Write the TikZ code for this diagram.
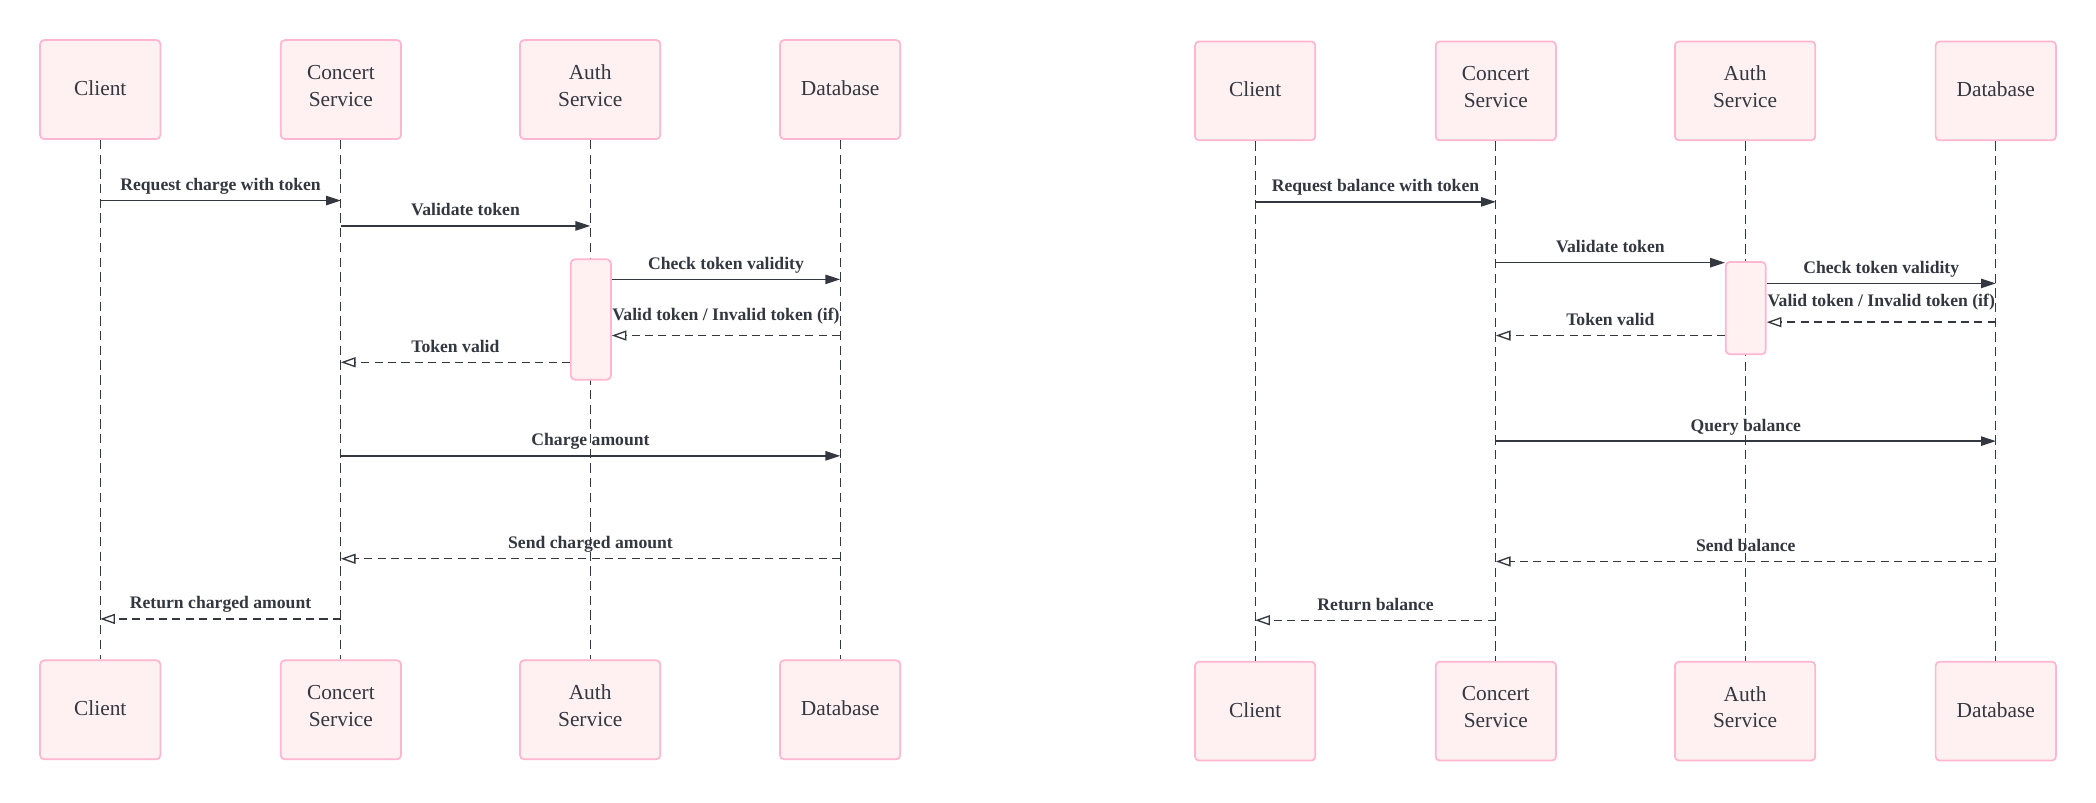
\documentclass[tikz,border=0pt]{standalone}
\usepackage{fontspec}
\setmainfont{Liberation Serif}
\usetikzlibrary{arrows.meta}
\definecolor{rosefond}{RGB}{255,240,241}
\definecolor{rosebord}{RGB}{255,182,208}
\definecolor{encre}{RGB}{51,55,63}
\tikzset{
	acteur/.style={draw=rosebord,fill=rosefond,line width=1.3pt,rounded corners=3pt,
		minimum width=90pt,minimum height=74pt,inner sep=0pt,align=center,
		text=encre,font=\fontsize{16}{20}\selectfont,text depth=2pt},
	service/.style={acteur,text depth=6pt},
	activ/.style={draw=rosebord,fill=rosefond,line width=1.3pt,rounded corners=3pt,
		minimum width=30pt,inner sep=0pt},
	vie/.style={draw=encre,line width=0.7pt,dash pattern=on 7pt off 4pt},
	appel/.style={draw=encre,line width=1pt,-{Triangle[length=11pt,width=7pt]}},
	retour/.style={draw=encre,line width=1pt,dash pattern=on 6pt off 4pt,
		-{Triangle[open,length=11pt,width=7.5pt]}},
	etiq/.style={font=\fontsize{13.2}{15}\selectfont\bfseries,text=encre,
		anchor=base,yshift=7.5pt,inner sep=0pt}
}
\begin{document}
\begin{tikzpicture}[x=1pt,y=-1pt]
	\useasboundingbox (0,0) rectangle (1568,600);
%					Paiement : les acteurs
	\node[acteur] (c1) at (75,67) {Client};
	\node[service] (s1) at (255,67) {Concert\\Service};
	\node[service,minimum width=105pt] (a1) at (441.5,67) {Auth\\Service};
	\node[acteur] (d1) at (628.5,67) {Database};
	\node[acteur] (c1b) at (75,531) {Client};
	\node[service] (s1b) at (255,531) {Concert\\Service};
	\node[service,minimum width=105pt] (a1b) at (441.5,531) {Auth\\Service};
	\node[acteur] (d1b) at (628.5,531) {Database};
%					Paiement : les lignes de vie
	\draw[vie] (c1) -- (c1b);
	\draw[vie] (s1) -- (s1b);
	\draw[vie] (a1) -- (a1b);
	\draw[vie] (d1) -- (d1b);
	\node[activ,minimum height=90pt] (act1) at (442,239) {};
%					Paiement : les messages
	\draw[appel] (c1 |- 0,150) -- (s1 |- 0,150) node[etiq,midway]{Request charge with token};
	\draw[appel] (s1 |- 0,169) -- (a1 |- 0,169) node[etiq,midway]{Validate token};
	\draw[appel] (act1.east |- 0,209) -- (d1 |- 0,209) node[etiq,midway]{Check token validity};
	\draw[retour] (d1 |- 0,251) -- (act1.east |- 0,251) node[etiq,midway,yshift=4pt]{Valid token / Invalid token (if)};
	\draw[retour] (act1.west |- 0,271) -- (s1 |- 0,271) node[etiq,midway]{Token valid};
	\draw[appel] (s1 |- 0,341) -- (d1 |- 0,341) node[etiq,midway]{Charge amount};
	\draw[retour] (d1 |- 0,418) -- (s1 |- 0,418) node[etiq,midway]{Send charged amount};
	\draw[retour] (s1 |- 0,463) -- (c1 |- 0,463) node[etiq,midway]{Return charged amount};
%					Solde : les acteurs
	\node[acteur] (c2) at (939,68) {Client};
	\node[service] (s2) at (1119,68) {Concert\\Service};
	\node[service,minimum width=105pt] (a2) at (1305.5,68) {Auth\\Service};
	\node[acteur] (d2) at (1493,68) {Database};
	\node[acteur] (c2b) at (939,532) {Client};
	\node[service] (s2b) at (1119,532) {Concert\\Service};
	\node[service,minimum width=105pt] (a2b) at (1305.5,532) {Auth\\Service};
	\node[acteur] (d2b) at (1493,532) {Database};
%					Solde : les lignes de vie
	\draw[vie] (c2) -- (c2b);
	\draw[vie] (s2) -- (s2b);
	\draw[vie] (a2) -- (a2b);
	\draw[vie] (d2) -- (d2b);
	\node[activ,minimum height=69pt] (act2) at (1306,230.5) {};
%					Solde : les messages
	\draw[appel] (c2 |- 0,151) -- (s2 |- 0,151) node[etiq,midway]{Request balance with token};
	\draw[appel] (s2 |- 0,196.5) -- (act2.west |- 0,196.5) node[etiq,midway]{Validate token};
	\draw[appel] (act2.east |- 0,212) -- (d2 |- 0,212) node[etiq,midway]{Check token validity};
	\draw[retour] (d2 |- 0,241) -- (act2.east |- 0,241) node[etiq,midway,yshift=4pt]{Valid token / Invalid token (if)};
	\draw[retour] (act2.west |- 0,251) -- (s2 |- 0,251) node[etiq,midway]{Token valid};
	\draw[appel] (s2 |- 0,330) -- (d2 |- 0,330) node[etiq,midway]{Query balance};
	\draw[retour] (d2 |- 0,420) -- (s2 |- 0,420) node[etiq,midway]{Send balance};
	\draw[retour] (s2 |- 0,464) -- (c2 |- 0,464) node[etiq,midway]{Return balance};
\end{tikzpicture}
\end{document}
